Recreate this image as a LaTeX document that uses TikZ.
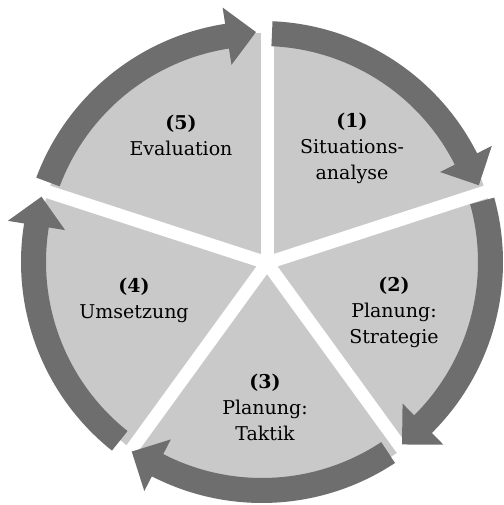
\documentclass[tikz,border=0pt]{standalone}
\usepackage{fontspec}
\setmainfont{DejaVu Serif}

\definecolor{pielight}{gray}{0.79}
\definecolor{ringdark}{gray}{0.43}

\tikzset{
  phase/.style={align=center, inner sep=0pt, font=\fontsize{19}{26}\selectfont},
  gap/.style={white, line width=13pt},
}

\begin{document}
\begin{tikzpicture}[x=1pt,y=1pt]
    \useasboundingbox (0,0) rectangle (503,505);
    \coordinate (pc) at (267,242);
    \coordinate (rc) at (262,243);
    % Pie, cut into five parts
    \fill[pielight] (pc) circle[radius=230];
    \foreach \g in {90,18,-54,-126,162}
      \draw[gap] (pc) -- ++(\g:240);
    % Ring of arrows, one per part
    \begin{scope}[shift={(rc)}]
      \foreach \st/\tp in {87.5/19.5, 15.5/-52.5, -56.5/-124.5, -128.5/-196.5, 159.5/91.5}{
        \pgfmathsetmacro{\bs}{\tp+7.3}
        \fill[ringdark] (\st:241) arc[start angle=\st, end angle=\bs, radius=241]
          -- (\bs:257.5) -- (\tp:230) -- (\bs:199.5) -- (\bs:216)
          arc[start angle=\bs, end angle=\st, radius=216] -- cycle;
      }
    \end{scope}
    % Labels
    \node[phase] (sit) at (352,357) {\textbf{(1)}\\Situations-\\analyse};
    \node[phase] (strat) at (394,193) {\textbf{(2)}\\Planung:\\Strategie};
    \node[phase] (takt) at (265,98) {\textbf{(3)}\\Planung:\\Taktik};
    \node[phase] (ums) at (134,205) {\textbf{(4)}\\Umsetzung};
    \node[phase] (eval) at (181,370) {\textbf{(5)}\\Evaluation};
\end{tikzpicture}
\end{document}
